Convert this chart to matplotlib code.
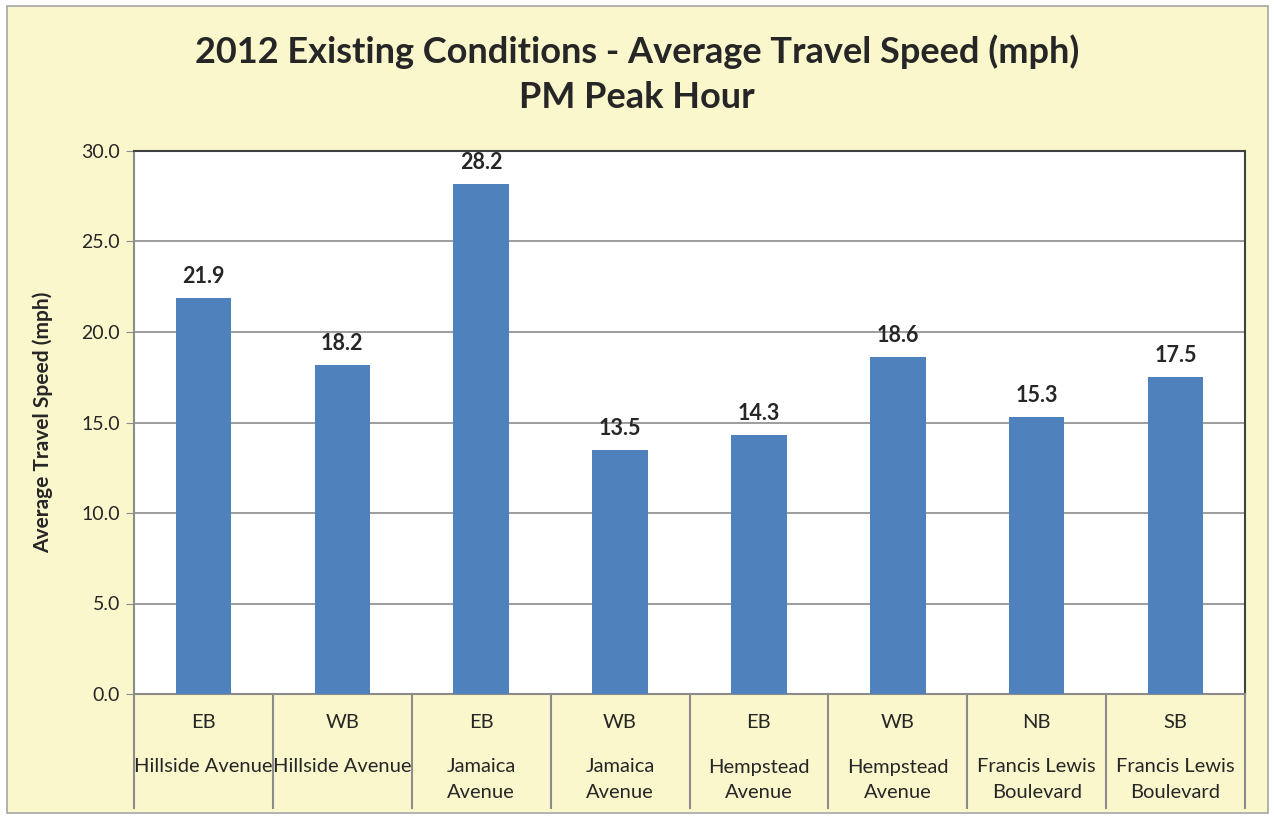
import matplotlib.pyplot as plt
from matplotlib.patches import Rectangle
from matplotlib.lines import Line2D

directions = ["EB", "WB", "EB", "WB", "EB", "WB", "NB", "SB"]
streets = ["Hillside Avenue", "Hillside Avenue", "Jamaica\nAvenue", "Jamaica\nAvenue",
           "Hempstead\nAvenue", "Hempstead\nAvenue", "Francis Lewis\nBoulevard",
           "Francis Lewis\nBoulevard"]
speeds = [21.9, 18.2, 28.2, 13.5, 14.3, 18.6, 15.3, 17.5]
yticks = [0.0, 5.0, 10.0, 15.0, 20.0, 25.0, 30.0]

plt.rcParams['font.family'] = ['Lato', 'DejaVu Sans']
bg = '#FAF7CD'
bar_color = '#4F81BD'
text_color = '#262626'

fig = plt.figure(figsize=(12.74, 8.19), dpi=100)
fig.patch.set_facecolor('white')
# chart area background with grey border
fig.patches.append(Rectangle((7 / 1274, 1 - 813 / 819), 1261 / 1274, 807 / 819,
                             transform=fig.transFigure, facecolor=bg,
                             edgecolor='#A6A6A6', linewidth=1.2, zorder=-5))

ax = fig.add_axes([134 / 1274, 1 - 694 / 819, 1111 / 1274, 543 / 819])
ax.set_facecolor('white')
n = len(speeds)
x = list(range(n))
ax.bar(x, speeds, width=0.4, color=bar_color, zorder=3)
ax.set_xlim(-0.5, n - 0.5)
ax.set_ylim(0, 30)
ax.set_yticks(yticks)
ax.set_yticklabels(["%.1f" % v for v in yticks], fontsize=14, color=text_color)
ax.yaxis.grid(True, color='#8C8C8C', linewidth=1.2, zorder=0)
ax.set_axisbelow(True)
ax.tick_params(axis='y', length=6, color='#8C8C8C', pad=4)
ax.set_xticks([])
for side in ['top', 'right']:
    ax.spines[side].set_color('#404040')
    ax.spines[side].set_linewidth(1.5)
for side in ['left', 'bottom']:
    ax.spines[side].set_color('#8C8C8C')
    ax.spines[side].set_linewidth(1.5)

for xi, v in zip(x, speeds):
    ax.text(xi, v + 0.6, "%.1f" % v, ha='center', va='bottom', fontsize=15.5,
            fontweight='bold', color=text_color)

ax.set_ylabel("Average Travel Speed (mph)", fontsize=15, fontweight='bold',
              color=text_color, labelpad=20)

# category labels below the plot
trans = ax.get_xaxis_transform()
for i in range(n + 1):
    ax.add_line(Line2D([i - 0.5, i - 0.5], [0, -114 / 543], transform=trans,
                       color='#8C8C8C', linewidth=1.5, clip_on=False))
for i in range(n):
    ax.text(i, -29 / 543, directions[i], transform=trans, ha='center', va='center',
            fontsize=14.5, color=text_color)
    # each street line on its own row, like the original
    for j, part in enumerate(streets[i].split("\n")):
        ax.text(i, -(73 + 26 * j) / 543, part, transform=trans, ha='center',
                va='center', fontsize=14.5, color=text_color)

fig.text(0.5, 1 - 52 / 819, "2012 Existing Conditions - Average Travel Speed (mph)",
         ha='center', va='center', fontsize=26, fontweight='bold', color=text_color)
fig.text(0.5, 1 - 98 / 819, "PM Peak Hour", ha='center', va='center', fontsize=26,
         fontweight='bold', color=text_color)

fig.savefig("out.png", dpi=100, facecolor=fig.get_facecolor())
